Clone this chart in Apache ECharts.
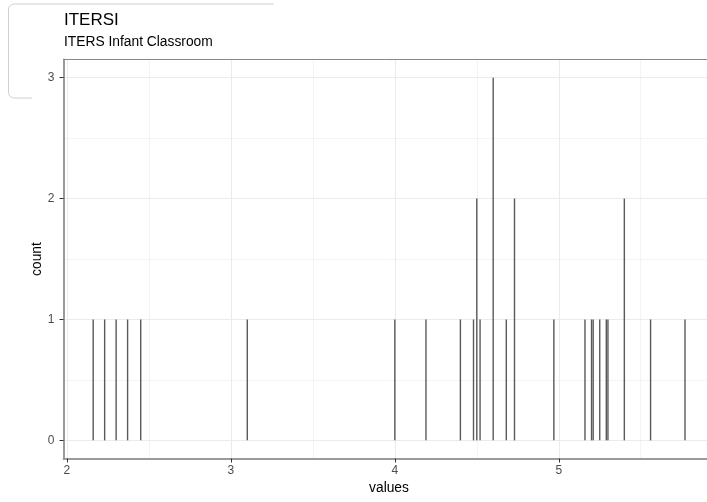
<!DOCTYPE html>
<html>
<head>
<meta charset="utf-8">
<script src="https://cdn.jsdelivr.net/npm/echarts@6/dist/echarts.min.js"></script>
<style>
html,body{margin:0;padding:0;background:#fff;}
#chart{width:707px;height:502px;}
</style>
</head>
<body>
<div id="chart"></div>
<script>
// Histogram bins (value, count)
const binValues = [2.16, 2.23, 2.30, 2.37, 2.45, 3.10, 4.00, 4.19, 4.40, 4.48, 4.50, 4.52, 4.60, 4.68, 4.73, 4.97, 5.16, 5.20, 5.21, 5.25, 5.29, 5.30, 5.40, 5.56, 5.77];
const binCounts = [1, 1, 1, 1, 1, 1, 1, 1, 1, 1, 2, 1, 3, 1, 2, 1, 1, 1, 1, 1, 1, 1, 2, 1, 1];
const xTicks = [2, 3, 4, 5];
const xMinor = [2.5, 3.5, 4.5, 5.5];
const yTicks = [0, 1, 2, 3];
const yMinor = [0.5, 1.5, 2.5];

const chart = echarts.init(document.getElementById('chart'));
const FONT = 'Liberation Sans';

const gridMarks = [];
xMinor.forEach(v => gridMarks.push({xAxis: v, lineStyle: {color: '#f4f4f4', width: 1, type: 'solid'}}));
yMinor.forEach(v => gridMarks.push({yAxis: v, lineStyle: {color: '#f4f4f4', width: 1, type: 'solid'}}));
xTicks.forEach(v => gridMarks.push({xAxis: v, lineStyle: {color: '#ebebeb', width: 1, type: 'solid'}}));
yTicks.forEach(v => gridMarks.push({yAxis: v, lineStyle: {color: '#ebebeb', width: 1, type: 'solid'}}));

// rounded-corner outline (top, left, bottom stub)
const boxPts = [[274, 4], [14, 4], [11.5, 4.6], [9.7, 6.0], [8.8, 7.6], [8.5, 9.5], [8.5, 92.5], [8.8, 94.4], [9.7, 96.0], [11.5, 97.4], [14, 98], [32, 98]];

chart.setOption({
  animation: false,
  backgroundColor: '#fff',
  textStyle: {fontFamily: FONT},
  title: {
    text: 'ITERSI',
    subtext: 'ITERS Infant Classroom',
    left: 64,
    top: 12,
    padding: 0,
    itemGap: 6,
    textStyle: {fontFamily: FONT, fontSize: 17, fontWeight: 'normal', color: '#000'},
    subtextStyle: {fontFamily: FONT, fontSize: 13.8, color: '#000'}
  },
  graphic: [{
    type: 'polyline',
    z: -1,
    shape: {points: boxPts},
    style: {fill: null, stroke: '#d0d0d0', lineWidth: 1}
  }],
  grid: {left: 63.5, width: 651, top: 59.5, bottom: 43.5, containLabel: false, outerBoundsMode: 'none'},
  xAxis: {
    type: 'value',
    min: 1.979,
    max: 5.95,
    name: 'values',
    nameLocation: 'middle',
    nameGap: 23,
    nameMoveOverlap: false,
    nameTextStyle: {fontFamily: FONT, fontSize: 13.8, color: '#000'},
    axisLine: {show: true, onZero: false, lineStyle: {color: '#9a9a9a', width: 2}},
    axisTick: {show: true, customValues: xTicks, length: 4, lineStyle: {color: '#333'}},
    axisLabel: {customValues: xTicks, margin: 6, fontFamily: FONT, fontSize: 12, color: '#4d4d4d'},
    splitLine: {show: false}
  },
  yAxis: {
    type: 'value',
    min: -0.15,
    max: 3.15,
    name: 'count',
    nameLocation: 'middle',
    nameGap: 19.5,
    nameMoveOverlap: false,
    nameRotate: 90,
    nameTextStyle: {fontFamily: FONT, fontSize: 13.8, color: '#000'},
    axisLine: {show: true, onZero: false, lineStyle: {color: '#9a9a9a', width: 2}},
    axisTick: {show: true, customValues: yTicks, length: 4, lineStyle: {color: '#333'}},
    axisLabel: {customValues: yTicks, margin: 9, fontFamily: FONT, fontSize: 12, color: '#4d4d4d'},
    splitLine: {show: false}
  },
  series: [
    {
      type: 'line',
      data: [],
      z: 0,
      silent: true,
      markLine: {
        z: 0,
        silent: true,
        symbol: 'none',
        label: {show: false},
        animation: false,
        data: gridMarks
      }
    },
    {
      type: 'line',
      data: [],
      z: 5,
      silent: true,
      markLine: {
        z: 6,
        silent: true,
        symbol: 'none',
        label: {show: false},
        animation: false,
        data: [{yAxis: 3.15, lineStyle: {color: '#888', width: 1, type: 'solid'}}]
      }
    },
    {
      type: 'bar',
      z: 3,
      barWidth: 1.4,
      barGap: '-100%',
      itemStyle: {color: '#595959'},
      data: binValues.map((v, i) => [v, binCounts[i]])
    }
  ]
});
</script>
</body>
</html>
